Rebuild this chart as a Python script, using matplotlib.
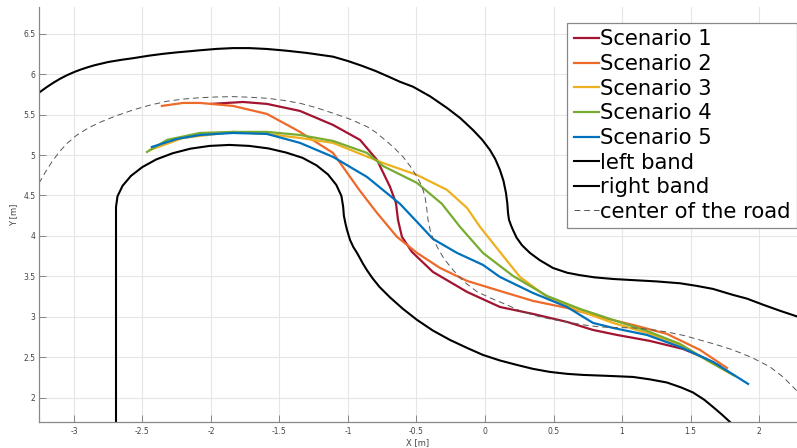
import matplotlib
matplotlib.use("Agg")
import matplotlib.pyplot as plt
from matplotlib.ticker import FuncFormatter

# ---------------- data ----------------
s1_x = [-2.000, -1.766, -1.591, -1.350, -1.109, -0.912, -0.788, -0.693, -0.650, -0.635,
        -0.606, -0.533, -0.380, -0.131, 0.109, 0.350, 0.599, 0.788, 0.964, 1.204,
        1.445, 1.569, 1.715]
s1_y = [5.632, 5.656, 5.632, 5.545, 5.372, 5.187, 4.939, 4.606, 4.408, 4.198,
        3.988, 3.802, 3.555, 3.308, 3.122, 3.036, 2.937, 2.838, 2.776, 2.702,
        2.603, 2.517, 2.393]

s2_x = [-2.358, -2.204, -2.080, -1.839, -1.591, -1.350, -1.109, -0.912, -0.788, -0.642,
        -0.496, -0.328, -0.131, 0.109, 0.350, 0.599, 0.839, 1.080, 1.328, 1.569, 1.766]
s2_y = [5.607, 5.644, 5.644, 5.607, 5.508, 5.286, 5.026, 4.556, 4.284, 3.988,
        3.790, 3.604, 3.444, 3.320, 3.197, 3.110, 2.999, 2.900, 2.789, 2.591, 2.368]

s3_x = [-2.445, -2.204, -1.839, -1.591, -1.350, -1.109, -0.745, -0.496, -0.277, -0.131,
        -0.036, 0.109, 0.255, 0.453, 0.693, 0.934, 1.182, 1.423, 1.642, 1.810]
s3_y = [5.063, 5.211, 5.286, 5.261, 5.211, 5.150, 4.902, 4.754, 4.569, 4.346,
        4.111, 3.802, 3.493, 3.246, 3.073, 2.925, 2.801, 2.653, 2.443, 2.282]

s4_x = [-2.467, -2.321, -2.080, -1.839, -1.591, -1.350, -1.109, -0.861, -0.745, -0.496,
        -0.314, -0.182, -0.015, 0.204, 0.453, 0.693, 0.934, 1.182, 1.423, 1.642, 1.825]
s4_y = [5.038, 5.187, 5.273, 5.286, 5.286, 5.248, 5.174, 5.026, 4.865, 4.655,
        4.396, 4.111, 3.790, 3.506, 3.258, 3.098, 2.962, 2.826, 2.665, 2.443, 2.270]

s5_x = [-2.431, -2.248, -2.080, -1.839, -1.591, -1.350, -1.109, -0.861, -0.620, -0.496,
        -0.380, -0.204, -0.015, 0.109, 0.350, 0.599, 0.788, 0.934, 1.182, 1.423,
        1.664, 1.920]
s5_y = [5.100, 5.199, 5.248, 5.273, 5.261, 5.150, 4.977, 4.729, 4.396, 4.173,
        3.963, 3.790, 3.642, 3.493, 3.295, 3.122, 2.925, 2.863, 2.776, 2.628,
        2.443, 2.171]

left_band_x = [-3.255, -3.200, -3.150, -3.100, -3.053, -3.000, -2.950, -2.900, -2.850, -2.750,
               -2.650, -2.569, -2.450, -2.350, -2.250, -2.150, -2.080, -1.960, -1.839, -1.720,
               -1.591, -1.450, -1.300, -1.109, -1.000, -0.900, -0.800, -0.766, -0.700, -0.620,
               -0.526, -0.400, -0.277, -0.180, -0.088, -0.020, 0.036, 0.075, 0.109, 0.135,
               0.153, 0.163, 0.168, 0.175, 0.190, 0.204, 0.230, 0.270, 0.328, 0.400,
               0.496, 0.600, 0.693, 0.800, 0.934, 1.100, 1.250, 1.423, 1.547, 1.664,
               1.810, 1.912, 2.029, 2.153, 2.277]
left_band_y = [5.771, 5.838, 5.894, 5.944, 5.985, 6.025, 6.057, 6.085, 6.110, 6.150,
               6.178, 6.197, 6.229, 6.251, 6.269, 6.284, 6.295, 6.312, 6.322, 6.322,
               6.311, 6.290, 6.262, 6.216, 6.162, 6.104, 6.040, 6.015, 5.966, 5.905,
               5.845, 5.725, 5.582, 5.456, 5.310, 5.188, 5.063, 4.950, 4.816, 4.680,
               4.532, 4.400, 4.284, 4.200, 4.130, 4.074, 3.980, 3.885, 3.790, 3.700,
               3.604, 3.545, 3.515, 3.488, 3.468, 3.452, 3.438, 3.415, 3.382, 3.345,
               3.271, 3.225, 3.150, 3.075, 3.005]

right_band_x = [-2.693, -2.693, -2.682, -2.645, -2.584, -2.501, -2.399, -2.280, -2.149, -2.009,
                -1.865, -1.721, -1.581, -1.450, -1.331, -1.229, -1.146, -1.085, -1.048, -1.035,
                -1.030, -1.018, -1.007, -0.985, -0.960, -0.934, -0.890, -0.861, -0.820, -0.770,
                -0.693, -0.600, -0.496, -0.380, -0.255, -0.130, -0.015, 0.110, 0.234, 0.350,
                0.474, 0.600, 0.715, 0.900, 1.080, 1.200, 1.328, 1.430, 1.518, 1.600,
                1.664, 1.730, 1.788]
right_band_y = [1.700, 4.358, 4.491, 4.620, 4.742, 4.851, 4.946, 5.022, 5.079, 5.113,
                5.125, 5.113, 5.082, 5.030, 4.965, 4.872, 4.760, 4.630, 4.495, 4.358,
                4.250, 4.150, 4.074, 3.950, 3.860, 3.790, 3.655, 3.575, 3.475, 3.370,
                3.240, 3.100, 2.962, 2.830, 2.714, 2.615, 2.529, 2.460, 2.405, 2.357,
                2.319, 2.295, 2.282, 2.270, 2.257, 2.228, 2.188, 2.128, 2.065, 1.975,
                1.886, 1.790, 1.700]

center_x = [-3.255, -3.210, -3.160, -3.110, -3.053, -2.980, -2.900, -2.810, -2.700, -2.569,
            -2.450, -2.321, -2.200, -2.080, -1.960, -1.839, -1.720, -1.591, -1.470, -1.350,
            -1.230, -1.109, -0.980, -0.861, -0.800, -0.745, -0.670, -0.599, -0.545, -0.496,
            -0.460, -0.438, -0.425, -0.416, -0.395, -0.350, -0.300, -0.234, -0.150, -0.058,
            0.050, 0.161, 0.250, 0.350, 0.470, 0.599, 0.720, 0.839, 0.960, 1.080,
            1.200, 1.328, 1.450, 1.569, 1.690, 1.810, 1.950, 2.080, 2.180, 2.277]
center_y = [4.651, 4.785, 4.918, 5.032, 5.140, 5.245, 5.330, 5.405, 5.480, 5.557,
            5.615, 5.665, 5.692, 5.709, 5.718, 5.722, 5.715, 5.702, 5.676, 5.640,
            5.585, 5.517, 5.440, 5.351, 5.285, 5.208, 5.100, 4.980, 4.860, 4.733,
            4.610, 4.486, 4.340, 4.198, 4.030, 3.868, 3.720, 3.580, 3.430, 3.310,
            3.225, 3.147, 3.080, 3.023, 2.975, 2.937, 2.900, 2.875, 2.868, 2.863,
            2.845, 2.813, 2.770, 2.714, 2.655, 2.591, 2.495, 2.381, 2.250, 2.084]

labels = ["Scenario 1", "Scenario 2", "Scenario 3", "Scenario 4", "Scenario 5",
          "left band", "right band", "center of the road"]
colors = ["#A2142F", "#EE6A2A", "#EDB120", "#77AC30", "#0072BD"]

x_ticks = [-3, -2.5, -2, -1.5, -1, -0.5, 0, 0.5, 1, 1.5, 2]
y_ticks = [2, 2.5, 3, 3.5, 4, 4.5, 5, 5.5, 6, 6.5]

# ---------------- figure ----------------
fig = plt.figure(figsize=(7.97, 4.48), dpi=100)
ax = fig.add_axes([39 / 797, 26 / 448, (797 - 39) / 797, (422 - 7) / 448])

series = [(s1_x, s1_y), (s2_x, s2_y), (s3_x, s3_y), (s4_x, s4_y), (s5_x, s5_y)]
for (xs, ys), c, lab in zip(series, colors, labels[:5]):
    ax.plot(xs, ys, color=c, lw=1.6, label=lab, solid_joinstyle="round")

ax.plot(left_band_x, left_band_y, color="black", lw=1.5, label=labels[5],
        solid_joinstyle="round")
ax.plot(right_band_x, right_band_y, color="black", lw=1.5, label=labels[6],
        solid_joinstyle="round")
ax.plot(center_x, center_y, color="#555555", lw=0.7, dashes=(6, 4), label=labels[7])

ax.set_xlim(-3.255, 2.277)
ax.set_ylim(1.70, 6.83)
ax.set_xticks(x_ticks)
ax.set_yticks(y_ticks)
fmt = FuncFormatter(lambda v, p: "%g" % v)
ax.xaxis.set_major_formatter(fmt)
ax.yaxis.set_major_formatter(fmt)

ax.grid(True, color="#e6e6e6", lw=0.8)
ax.set_axisbelow(True)
for side in ["top", "right"]:
    ax.spines[side].set_visible(False)
for side in ["left", "bottom"]:
    ax.spines[side].set_color("#888888")
    ax.spines[side].set_linewidth(0.9)
ax.tick_params(direction="in", length=5, width=0.7, colors="#888888",
               labelcolor="#444444", labelsize=5.5)
ax.tick_params(axis="x", pad=3.5)
ax.tick_params(axis="y", pad=2.5)

ax.set_xlabel("X [m]", fontsize=6, color="#444444", labelpad=1.5)
ax.set_ylabel("Y [m]", fontsize=6, color="#444444", labelpad=3.5)

leg = ax.legend(loc="upper right", bbox_to_anchor=(1.0, 425 / 448),
                bbox_transform=fig.transFigure, fontsize=15.2, frameon=True,
                fancybox=False, edgecolor="#888888", framealpha=1,
                borderaxespad=0, borderpad=0.3, labelspacing=0.22,
                handlelength=1.2, handletextpad=0.05)
leg.get_frame().set_linewidth(0.9)

fig.savefig("out.png", dpi=100)
